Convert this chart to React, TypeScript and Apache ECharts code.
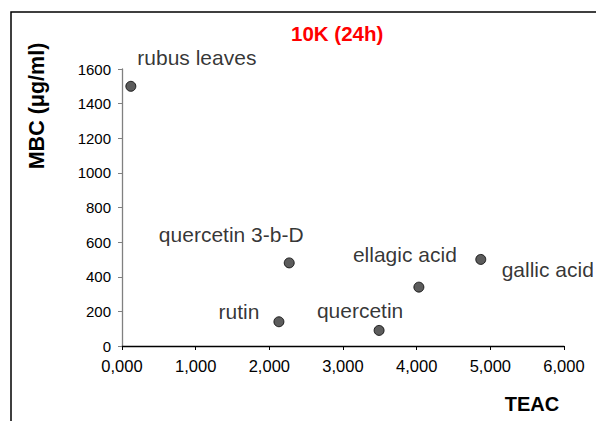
import React, { useEffect, useRef } from "react";
import * as echarts from "echarts";

const compounds = ["rubus leaves", "rutin", "quercetin 3-b-D", "quercetin", "ellagic acid", "gallic acid"];
const teac = [0.12, 2.13, 2.27, 3.49, 4.03, 4.87];
const mbc = [1500, 140, 480, 90, 340, 500];
const labelOffsets: [number, number][] = [
  [66, -29],
  [-40, -10],
  [-58, -28],
  [-19, -20],
  [-14, -33],
  [67, 10],
];
const xTicks = { min: 0, max: 6, interval: 1 };
const yTicks = { min: 0, max: 1600, interval: 200 };

const FONT = "'Liberation Sans', Arial, sans-serif";

export default function App() {
  const ref = useRef<HTMLDivElement>(null);
  useEffect(() => {
    document.body.style.margin = "0";
    const chart = echarts.init(ref.current!, undefined, { renderer: "svg" });
    chart.setOption({
      animation: false,
      backgroundColor: "#fff",
      textStyle: { fontFamily: FONT },
      title: {
        text: "10K (24h)",
        left: 291,
        top: 23,
        padding: 0,
        textStyle: { color: "#ff0000", fontWeight: "bold", fontSize: 20.5, fontFamily: FONT },
      },
      grid: { left: 122, right: 32, top: 69, bottom: 75 },
      xAxis: {
        type: "value",
        min: xTicks.min,
        max: xTicks.max,
        interval: xTicks.interval,
        splitLine: { show: false },
        axisLine: { show: true, onZero: false, lineStyle: { color: "#000", width: 1.3 } },
        axisTick: { show: true, inside: false, length: 4, lineStyle: { color: "#000" } },
        axisLabel: {
          color: "#000",
          fontSize: 16.5,
          fontFamily: FONT,
          margin: 11,
          formatter: (v: number) => v.toFixed(3).replace(".", ","),
        },
      },
      yAxis: {
        type: "value",
        min: yTicks.min,
        max: yTicks.max,
        interval: yTicks.interval,
        splitLine: { show: false },
        axisLine: { show: true, onZero: false, lineStyle: { color: "#808080", width: 1.3 } },
        axisTick: { show: true, inside: false, length: 4, lineStyle: { color: "#808080" } },
        axisLabel: {
          color: "#000",
          fontSize: 15,
          fontFamily: FONT,
          margin: 11,
          formatter: (v: number) => String(v),
        },
      },
      graphic: [
        {
          type: "rect",
          shape: { x: 11, y: 12, width: 700, height: 600 },
          style: { fill: "none", stroke: "#000", lineWidth: 1.5 },
          silent: true,
        },
        {
          type: "text",
          x: 37,
          y: 106,
          rotation: Math.PI / 2,
          style: {
            text: "MBC (μg/ml)",
            font: `bold 21.5px ${FONT}`,
            fill: "#000",
            align: "center",
            verticalAlign: "middle",
          },
        },
        {
          type: "text",
          x: 532,
          y: 404,
          style: {
            text: "TEAC",
            font: `bold 20px ${FONT}`,
            fill: "#000",
            align: "center",
            verticalAlign: "middle",
          },
        },
      ],
      series: [
        {
          type: "scatter",
          symbol: "circle",
          symbolSize: 10,
          itemStyle: { color: "#333333", borderColor: "#000", borderWidth: 1 },
          data: compounds.map((name, i) => ({
            name,
            value: [teac[i], mbc[i]],
            label: {
              show: true,
              position: "inside",
              offset: labelOffsets[i],
              formatter: name,
              color: "#000",
              textBorderWidth: 0,
              fontSize: 21,
              fontFamily: FONT,
            },
          })),
        },
      ],
    });
    return () => chart.dispose();
  }, []);
  return <div ref={ref} style={{ width: 596, height: 421 }} />;
}
